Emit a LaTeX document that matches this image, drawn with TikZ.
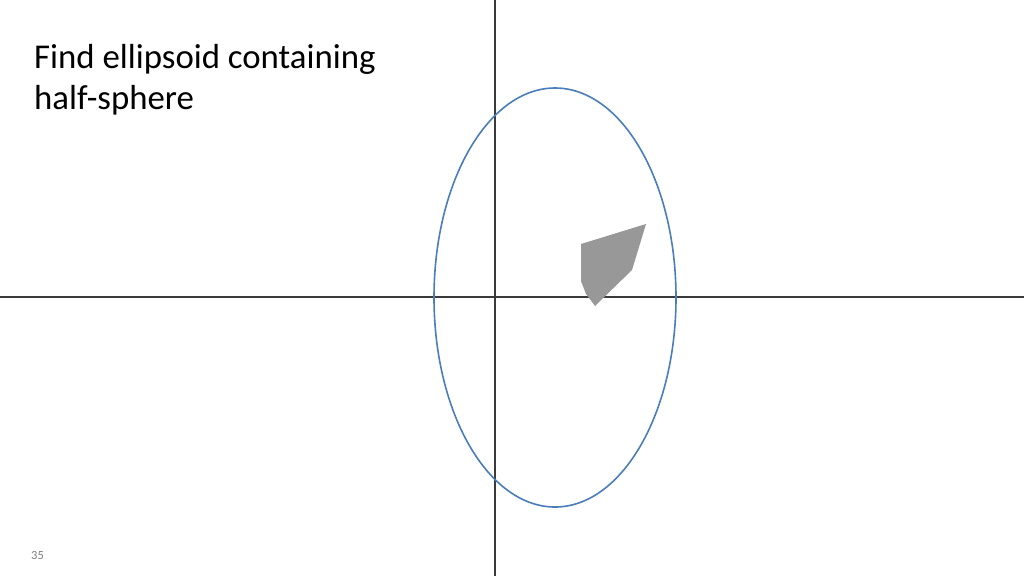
\documentclass[tikz,border=0pt]{standalone}
\usepackage{fontspec}
\setmainfont{Carlito}
\definecolor{ellblue}{HTML}{4A7EBB}
\definecolor{axisgray}{HTML}{3A3A3A}
\definecolor{polygray}{HTML}{989898}
\begin{document}
\begin{tikzpicture}[x=1pt,y=-1pt,
  axis/.style={draw=axisgray,line width=1.1pt},
  ell/.style={draw=ellblue,line width=1.6pt},
  title/.style={anchor=base west,inner sep=0pt,font=\fontsize{34.8}{41}\selectfont,align=left},
  pagenum/.style={anchor=base west,inner sep=0pt,font=\fontsize{12.5}{14}\selectfont,text=gray}]
\useasboundingbox (0,0) rectangle (1024,576);
\fill[white] (0,0) rectangle (1024,576);
% axes
\coordinate (xl) at (0,297);
\coordinate (xr) at (1024,297);
\coordinate (yt) at (495,0);
\coordinate (yb) at (495,576);
\draw[axis] (xl) -- (xr);
\draw[axis] (yt) -- (yb);
% ellipse
\draw[ell] (555,297.5) ellipse [x radius=121, y radius=209.5];
% shaded region
\fill[polygray] (581,244) -- (646,224) -- (632,270) -- (595,306) -- (586,294) -- (581,281) -- cycle;
% texts
\node[title] (t1) at (34,68.5) {Find ellipsoid containing};
\node[title] (t2) at (34,109) {half-sphere};
\node[pagenum] (pn) at (31,559) {35};
\end{tikzpicture}
\end{document}
